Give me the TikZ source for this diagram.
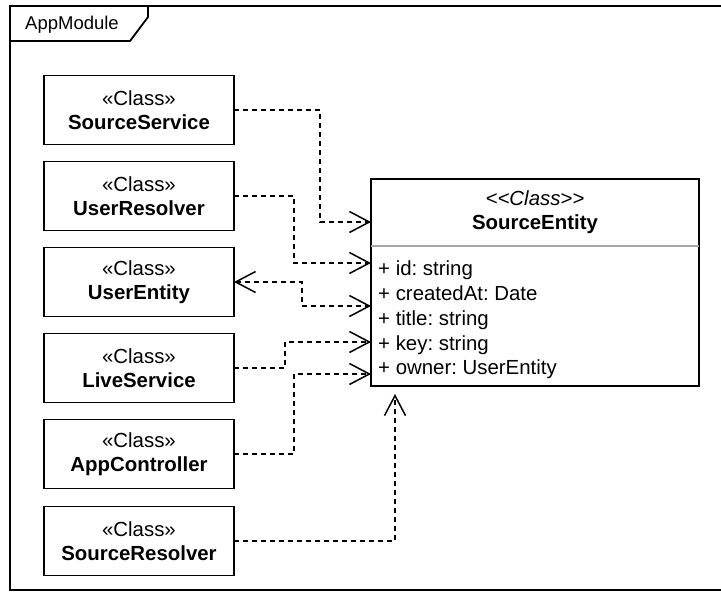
\documentclass[tikz,border=0pt]{standalone}
\usepackage{fontspec}
\setmainfont{Liberation Sans}
\usetikzlibrary{arrows.meta,calc}
\frenchspacing

\tikzset{
  classbox/.style={draw, line width=1.8pt, outer sep=0pt, minimum width=190pt,
    minimum height=69pt, align=center, inner sep=0pt,
    font=\fontsize{20.4}{24.5}\selectfont},
  entitybox/.style={draw, line width=1.8pt, outer sep=0pt, minimum width=328pt,
    minimum height=207pt, inner sep=0pt},
  attr/.style={anchor=base west, inner sep=0pt, font=\fontsize{20.4}{24.5}\selectfont},
  ctext/.style={anchor=base, inner sep=0pt, font=\fontsize{20.4}{24.5}\selectfont},
  dep/.style={line width=1.5pt, dash pattern=on 5pt off 4pt, -{Straight Barb[length=20pt, width=21pt]}},
}

\begin{document}
\begin{tikzpicture}[x=1pt, y=-1pt]
  \useasboundingbox (0,0) rectangle (721,592);

  % package frame with its name tab
  \draw[line width=1.8pt] (10,6) rectangle (740,590);
  \draw[line width=1.8pt] (148,6) -- (148,17) -- (130,41) -- (10,41);
  \node[inner sep=0pt, font=\fontsize{18.5}{22}\selectfont] (frame) at (72,25) {AppModule};

  % client classes
  \node[classbox] (ss) at (139,110) {«Class»\\\textbf{SourceService}};
  \node[classbox] (ur) at (139,196) {«Class»\\\textbf{UserResolver}};
  \node[classbox] (ue) at (139,282) {«Class»\\\textbf{UserEntity}};
  \node[classbox] (ls) at (139,368) {«Class»\\\textbf{LiveService}};
  \node[classbox] (ac) at (139,454) {«Class»\\\textbf{AppController}};
  \node[classbox] (sr) at (139,541) {«Class»\\\textbf{SourceResolver}};

  % the entity class with its attribute compartment
  \node[entitybox] (se) at (535,282.5) {};
  \draw[line width=1.2pt, gray!70] (se.west |- 0,246) -- (se.east |- 0,246);
  \node[ctext] (st) at (535,205) {\textit{<{}<Class>{}>}};
  \node[ctext] (nm) at (535,229) {\textbf{SourceEntity}};
  \node[attr] (a1) at (378,275) {+ id: string};
  \node[attr] (a2) at (378,300) {+ createdAt: Date};
  \node[attr] (a3) at (378,325.5) {+ title: string};
  \node[attr] (a4) at (378,350) {+ key: string};
  \node[attr] (a5) at (378,374) {+ owner: UserEntity};

  % arrow end points on the entity
  \coordinate (e1) at ($(se.north west)+(0,43)$);
  \coordinate (e2) at ($(se.north west)+(0,84)$);
  \coordinate (e3) at ($(se.north west)+(0,127)$);
  \coordinate (e4) at ($(se.north west)+(0,163)$);
  \coordinate (e5) at ($(se.north west)+(0,195)$);
  \coordinate (e6) at ($(se.south west)+(24,8)$);

  % dependencies
  \draw[dep] (ss.east) -| (320,222) -- (e1);
  \draw[dep] (ur.east) -| (294,263) -- (e2);
  \draw[dep, {Straight Barb[length=20pt, width=21pt]}-{Straight Barb[length=20pt, width=21pt]}]
    (ue.east) -| (302,306) -- (e3);
  \draw[dep] (ls.east) -| (285,342) -- (e4);
  \draw[dep] (ac.east) -| (294,374) -- (e5);
  \draw[dep] (sr.east) -| (e6);
\end{tikzpicture}
\end{document}
